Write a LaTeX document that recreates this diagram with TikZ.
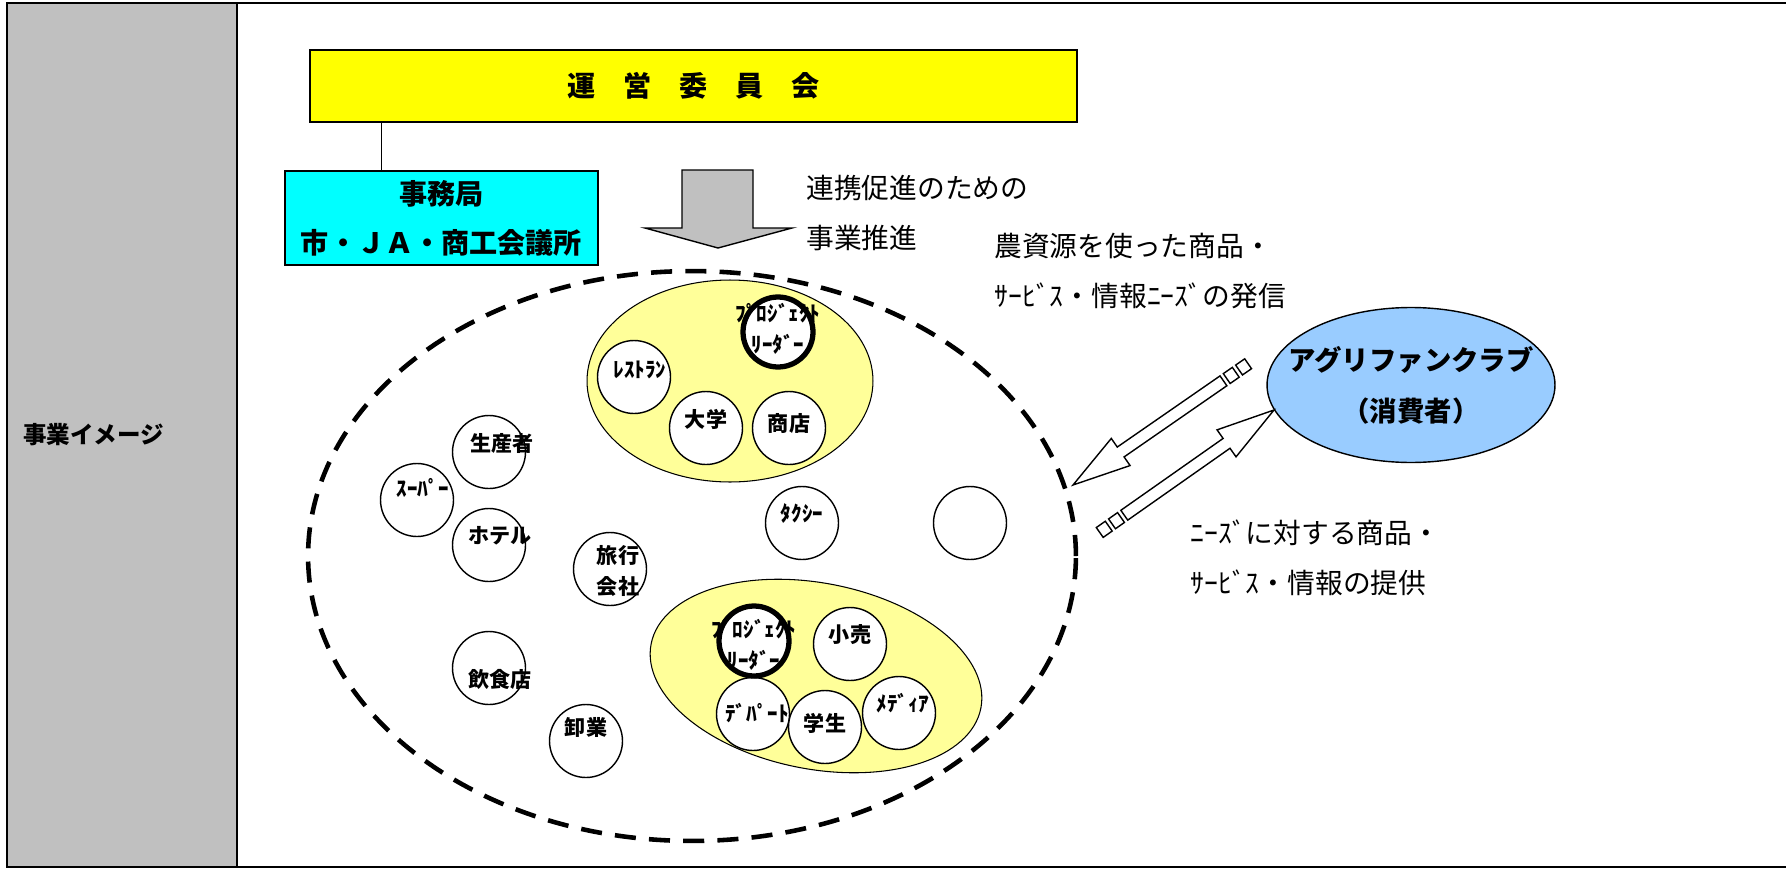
\documentclass[tikz,border=0pt]{standalone}
\usepackage{fontspec}
\setmainfont{Noto Sans CJK JP}
\usepackage{tikz}
\usetikzlibrary{shapes.geometric}
\definecolor{titleyellow}{HTML}{FFFF00}
\definecolor{officecyan}{HTML}{00FFFF}
\definecolor{grpyellow}{HTML}{FFFF99}
\definecolor{clubblue}{HTML}{99CCFF}
\definecolor{cellgray}{HTML}{C0C0C0}

\begin{document}
\begin{tikzpicture}
          [x = 0.02cm, y = -0.02cm,
           org/.style = {circle, draw, fill = white, line width = 0.8pt,
                         minimum size = 1.46cm, inner sep = 0pt},
           leader/.style = {org, line width = 3pt, minimum size = 1.4cm},
           lbl/.style = {font = \bfseries\fontsize{12}{18}\selectfont,
                         align = center, inner sep = 0pt},
           txt/.style = {font = \fontsize{15.8}{28.5}\selectfont,
                         align = left, inner sep = 0pt, anchor = west},
           grp/.style = {ellipse, draw, fill = grpyellow, line width = 0.6pt,
                         inner sep = 0pt},
           blk/.style = {draw, fill = white, line width = 0.8pt}]
          \useasboundingbox (0,0) rectangle (1786,869);
          \fill[cellgray] (7,3) rectangle (237,867);
          \draw[line width = 1.2pt] (1786,3) -- (7,3) -- (7,867) -- (1786,867);
          \draw[line width = 1.2pt] (237,3) -- (237,867);
          \node[anchor = west, inner sep = 0pt,
                font = \bfseries\fontsize{13.4}{16}\selectfont] (cell) at (23,435) {事業イメージ};

          \node[draw, fill = titleyellow, line width = 0.8pt,
                minimum width = 15.34cm, minimum height = 1.44cm,
                font = \bfseries\fontsize{16}{20}\selectfont] (unei) at (693.5,86) {運　営　委　員　会};
          \node[draw, fill = officecyan, line width = 0.8pt,
                minimum width = 6.26cm, minimum height = 1.88cm, align = center,
                font = \bfseries\fontsize{16}{28}\selectfont] (jimu) at (441.5,218) {事務局\\市・ＪＡ・商工会議所};
          \draw[line width = 0.8pt] ([xshift = 1.94cm]jimu.north west) -- ([xshift = 1.94cm]jimu.north west |- unei.south);
          \draw[fill = cellgray, line width = 0.8pt]
            (682,170) -- (753,170) -- (753,228) -- (792,228) -- (718,248) -- (645,228) -- (682,228) -- cycle;

          \node[txt] (renkei) at (806,213) {連携促進のための\\事業推進};
          \node[txt] (hasshin) at (994,271) {農資源を使った商品・\\ｻｰﾋﾞｽ・情報ﾆｰｽﾞの発信};
          \node[txt] (teikyo) at (1190,558) {ﾆｰｽﾞに対する商品・\\ｻｰﾋﾞｽ・情報の提供};

          \node[ellipse, draw, fill = clubblue, line width = 0.8pt, inner sep = 0pt,
                minimum width = 5.76cm, minimum height = 3.1cm] (club) at (1411,385) {};
          \node[align = center, inner sep = 0pt,
                font = \bfseries\fontsize{15.6}{29}\selectfont] at (club.center) {アグリファンクラブ\\（消費者）};

          \node[ellipse, draw, line width = 2.6pt, dash pattern = on 12pt off 7.5pt,
                minimum width = 15.36cm, minimum height = 11.4cm, inner sep = 0pt] (area) at (692,556) {};
          \node[grp, minimum width = 5.72cm, minimum height = 4.04cm] (grpA) at (730,381) {};
          \node[grp, minimum width = 6.72cm, minimum height = 3.72cm, rotate = -11] (grpB) at (816,676) {};

          \foreach \nm/\x/\y in {resto/634/377, daigaku/706/428, shoten/789/428,
                                 seisan/489/452, super/417/500, hotel/489/545,
                                 ryoko/610/569, inshoku/489/668, oroshi/586/741,
                                 taxi/802/523, blank/970/523, kouri/850/644,
                                 depart/753/714, gakusei/825/727, media/899/713}
            \node[org] (\nm) at (\x,\y) {};
          \node[leader] (leadA) at (778,332) {};
          \node[leader] (leadB) at (754,641) {};

          \foreach \nm/\dx/\dy/\lab in {leadA/0/-3/{ﾌﾟﾛｼﾞｪｸﾄ\\ﾘｰﾀﾞｰ}, leadB/0/4/{ﾌﾟﾛｼﾞｪｸﾄ\\ﾘｰﾀﾞｰ},
                                        resto/6/-7/ﾚｽﾄﾗﾝ, daigaku/0/-9/大学, shoten/0/-5/商店,
                                        seisan/13/-9/生産者, super/6/-12/ｽｰﾊﾟｰ, hotel/11/-9/ホテル,
                                        ryoko/8/2/{旅行\\会社}, inshoku/11/11/飲食店, oroshi/0/-14/卸業,
                                        taxi/0/-10/ﾀｸｼｰ, kouri/0/-9/小売, depart/4/-1/ﾃﾞﾊﾟｰﾄ,
                                        gakusei/0/-4/学生, media/4/-10/ﾒﾃﾞｨｱ}
            \node[lbl] at ([shift = {(\dx,\dy)}]\nm.center) {\lab};

          \coordinate (tipA) at (1073,485);
          \coordinate (tipB) at (1274,410);
          \foreach \tp/\ang in {tipA/214.7, tipB/35.1} {
            \begin{scope}[shift = {(\tp)}, rotate = \ang]
              \draw[blk] (0,0) -- (-58,16.5) -- (-58,6) -- (-183,6) -- (-183,-6) -- (-58,-6) -- (-58,-16.5) -- cycle;
              \draw[blk] (-187,-6) rectangle (-198,6);
              \draw[blk] (-202,-6) rectangle (-213,6);
            \end{scope}
          }
        \end{tikzpicture}
\end{document}
